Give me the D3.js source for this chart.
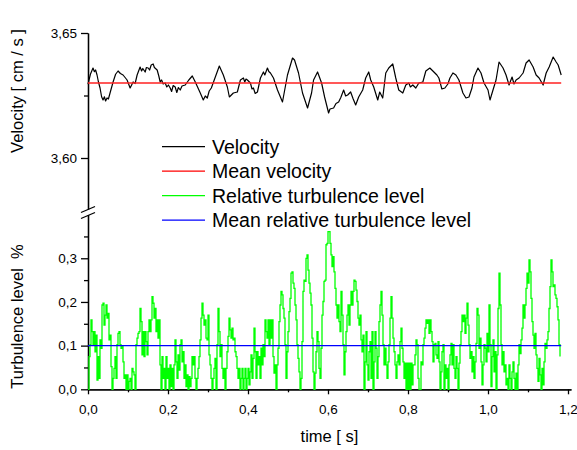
<!DOCTYPE html>
<html><head><meta charset="utf-8">
<script src="https://cdn.jsdelivr.net/npm/d3@7/dist/d3.min.js"></script>
<style>
html,body{margin:0;padding:0;background:#fff;}
svg{display:block;font-family:"Liberation Sans",Arial,sans-serif;}
</style></head>
<body>
<svg id="chart" width="577" height="450"></svg>
<script>
// ---------- data ----------
const velTime = [0.000,0.006,0.0125,0.016,0.019,0.0226,0.026,0.0301,0.034,0.0376,0.041,0.044,0.0476,0.051,0.0551,0.0627,0.069,0.0752,0.081,0.0877,0.0977,0.1053,0.1128,0.1178,0.1228,0.1303,0.134,0.137,0.1429,0.146,0.1504,0.154,0.158,0.1629,0.166,0.1729,0.177,0.1805,0.184,0.188,0.193,0.197,0.201,0.2055,0.209,0.213,0.218,0.222,0.226,0.2306,0.235,0.2431,0.252,0.2607,0.2682,0.2807,0.2882,0.2932,0.2982,0.303,0.3083,0.3183,0.3283,0.3383,0.3484,0.3534,0.3634,0.3734,0.381,0.3885,0.392,0.395,0.3985,0.406,0.41,0.4135,0.418,0.4236,0.4311,0.4386,0.442,0.4486,0.452,0.4561,0.4637,0.4737,0.4862,0.4987,0.5113,0.5163,0.5263,0.5363,0.5489,0.5589,0.5639,0.5739,0.584,0.5915,0.6015,0.605,0.614,0.62,0.6266,0.632,0.6391,0.6441,0.6491,0.6566,0.6625,0.6692,0.6767,0.6867,0.6942,0.7018,0.7068,0.7143,0.7243,0.7293,0.7368,0.7444,0.7519,0.7619,0.7694,0.7769,0.787,0.7945,0.802,0.806,0.812,0.8195,0.8271,0.8371,0.8446,0.8546,0.8622,0.8722,0.8772,0.8847,0.8922,0.8997,0.9048,0.9123,0.9198,0.9273,0.9373,0.9449,0.9524,0.9599,0.9649,0.9749,0.9825,0.99,1.0,1.005,1.0125,1.0201,1.0276,1.0376,1.0451,1.0526,1.0602,1.065,1.0702,1.0777,1.0877,1.0952,1.1028,1.1128,1.1203,1.1278,1.1378,1.1454,1.1529,1.1629,1.1704,1.1754,1.183];
const velValue = [3.6295,3.6335,3.636,3.6345,3.6352,3.6332,3.6305,3.628,3.6245,3.6232,3.6245,3.6228,3.624,3.6236,3.626,3.6304,3.6335,3.6348,3.6338,3.6332,3.6312,3.628,3.6304,3.6298,3.6332,3.6364,3.6348,3.6358,3.6344,3.6362,3.636,3.6352,3.6372,3.6376,3.6362,3.6352,3.6328,3.6304,3.6312,3.6296,3.63,3.6284,3.6292,3.628,3.6266,3.629,3.6284,3.6262,3.6282,3.6272,3.6288,3.6292,3.6312,3.6328,3.6304,3.626,3.6232,3.6248,3.624,3.6268,3.628,3.6324,3.6368,3.6332,3.6284,3.6244,3.626,3.6264,3.6312,3.632,3.6304,3.6316,3.6312,3.63,3.6276,3.628,3.6258,3.6264,3.632,3.6344,3.6332,3.636,3.6346,3.634,3.632,3.6272,3.6224,3.6332,3.64,3.6392,3.634,3.626,3.62,3.626,3.6312,3.6344,3.63,3.6244,3.618,3.6196,3.62,3.6218,3.6224,3.6242,3.6272,3.6248,3.6252,3.6264,3.6238,3.6212,3.6244,3.6272,3.632,3.6344,3.6312,3.6284,3.6232,3.6264,3.624,3.634,3.636,3.6376,3.632,3.6272,3.626,3.6292,3.63,3.6284,3.6292,3.628,3.63,3.6304,3.6348,3.636,3.6348,3.6332,3.632,3.6276,3.628,3.6296,3.632,3.634,3.6332,3.6312,3.626,3.624,3.6244,3.628,3.6324,3.636,3.634,3.63,3.6272,3.6232,3.6272,3.6312,3.6384,3.636,3.6332,3.6292,3.6324,3.6296,3.6312,3.632,3.634,3.638,3.6392,3.6364,3.6332,3.632,3.6292,3.634,3.6364,3.6404,3.6384,3.6372,3.6332];
const meanVelocity = 3.630;
const meanTimeEnd = 1.183;

const turbStep = 0.0025; // sampling interval [s]
const turbValues = [0,
.075,.102,.159,.132,.102,.132,.086,.124,.021,.075,.025,.113,.094,.193,.197,.147,.170,.193,.163,.174,
.113,.124,.052,0,.025,.048,.075,.025,.102,.128,.132,.102,.094,.098,.063,.025,.033,0,.033,0,.018,.025,0,.048,.040,.033,0,.102,.117,.128,.132,.185,.155,.079,.132,.075,.132,.109,.079,.132,.159,.132,.159,.212,.197,.163,.185,.132,.159,.117,.159,.056,0,.075,.025,.048,0,.075,.025,.048,0,.056,.006,.048,0,.056,.113,.063,.025,.079,.044,.102,.113,.063,.086,.025,.056,.006,.033,0,.029,.006,.025,.075,.056,.075,.025,0,.025,.048,.075,.113,.163,.197,.170,.147,.159,.117,.113,
.170,.079,.056,.025,0,.025,.048,.071,0,.102,.185,.132,.075,.102,.048,.025,.048,0,.048,.086,.121,.163,.136,.117,.140,.113,.117,.086,.075,.048,.025,.048,0,.025,.048,0,.025,.048,0,.025,.048,.010,.040,.079,.025,.071,.140,.086,.025,.086,.056,.075,.025,.094,.056,.102,.075,.159,.132,.117,.159,.102,.159,.117,.159,.075,.037,.056,0,.056,.094,.155,.193,.224,.216,.185,.163,.102,.025,.086,.132,.178,.208,.266,.269,.243,.231,.193,.159,.102,.071,.040,0,.025,.109,.224,.250,.247,.300,.308,.273,.243,.220,.193,.117,.040,0,.037,.086,.132,.109,.048,.025,.094,.170,.201,.247,.250,
.331,.334,.361,.361,.334,.308,.281,.304,.269,.231,.193,.163,.193,.155,.132,.224,.170,.102,.033,.086,.132,.170,.193,.147,.193,.224,.193,.224,.250,.247,.227,.201,.163,.147,.170,.113,.086,.124,0,.063,.132,.056,.021,.086,.109,.025,.132,0,.063,.132,.094,.025,.075,.155,.193,.224,.170,.102,.056,.094,.056,.025,.063,.102,.163,.212,.163,.117,.086,.056,.025,.063,.079,.056,.109,.140,.094,.063,.025,.060,0,.060,0,.060,0,.060,.010,.056,.056,.079,.113,.102,.025,0,0,.063,.056,.102,.117,.140,.159,.151,.159,.128,.159,.132,.109,.063,.102,.105,.079,.071,.109,.063,0,.040,.086,.102,
0,.056,.025,.048,0,.056,.079,.105,.056,.102,.048,.025,.075,.048,0,.060,.102,.132,.170,.155,.170,.128,.163,.197,.147,.102,.071,.086,.040,.075,.025,.063,.105,.185,.170,.094,.117,.063,.010,.056,.102,.094,.063,.128,.086,.193,.102,.006,.075,.113,.040,.086,0,.079,.185,.266,.193,.102,.056,.086,.040,.056,.010,.025,0,.056,.025,0,.040,.063,.025,0,.037,0,.056,.102,.082,.113,.140,.193,.163,.193,.231,.266,.243,.296,.269,.208,.155,.124,.094,.128,.079,.048,.018,.071,.033,0,.048,.010,.063,.105,.094,.113,.132,.185,.235,.296,.269,.235,.239,.216,.208,.189,.159,.102,.075];
const meanTurbulence = 0.10;

const timeTicks = [0,0.2,0.4,0.6,0.8,1.0,1.2];
const timeMinorTicks = [0.1,0.3,0.5,0.7,0.9,1.1];
const velTicks = [3.60,3.65];
const velMinorTicks = [3.625];
const turbTicks = [0,0.1,0.2,0.3];
const turbMinorTicks = [0.05,0.15,0.25,0.35];

const legendLabels = ["Velocity","Mean velocity","Relative turbulence level","Mean relative turbulence level"];
const legendColors = ["#000000","#ff0000","#00ff00","#0000ff"];

// ---------- drawing ----------
const svg = d3.select("#chart");
const locale = d3.formatLocale({decimal:",",thousands:".",grouping:[3],currency:["","€"]});
const f1 = locale.format(".1f"), f2 = locale.format(".2f");

const x = d3.scaleLinear().domain([0,1.2075]).range([88,571]);
const yTop = d3.scaleLinear().domain([3.5796,3.65]).range([209,33]);
const yBot = d3.scaleLinear().domain([0,0.4]).range([389.3,214.6]);

function styleAxis(g){
  g.selectAll("path,line").attr("stroke","#000").attr("stroke-width",1.3);
  g.selectAll("text").attr("font-size",13.5).attr("fill","#000").attr("font-family","'Liberation Sans',Arial,sans-serif");
}

// top y axis
svg.append("g").attr("transform","translate(88,0)")
  .call(d3.axisLeft(yTop).tickValues(velTicks).tickFormat(f2).tickSize(7).tickSizeOuter(0).tickPadding(4))
  .call(styleAxis);
svg.append("g").attr("transform","translate(88,0)")
  .call(d3.axisLeft(yTop).tickValues(velMinorTicks).tickFormat("").tickSize(4).tickSizeOuter(0))
  .call(styleAxis);
// bottom y axis
svg.append("g").attr("transform","translate(88,0)")
  .call(d3.axisLeft(yBot).tickValues(turbTicks).tickFormat(f1).tickSize(7).tickSizeOuter(0).tickPadding(4))
  .call(styleAxis);
svg.append("g").attr("transform","translate(88,0)")
  .call(d3.axisLeft(yBot).tickValues(turbMinorTicks).tickFormat("").tickSize(4).tickSizeOuter(0))
  .call(styleAxis);
// x axis
svg.append("g").attr("transform","translate(0,389.3)")
  .call(d3.axisBottom(x).tickValues(timeTicks).tickFormat(f1).tickSize(5).tickSizeOuter(0).tickPadding(10))
  .call(styleAxis);
svg.append("g").attr("transform","translate(0,389.3)")
  .call(d3.axisBottom(x).tickValues(timeMinorTicks).tickFormat("").tickSize(3).tickSizeOuter(0))
  .call(styleAxis);

// axis break marks
[0,6].forEach(dy=>{
  svg.append("line").attr("x1",81).attr("y1",212.5+dy).attr("x2",95).attr("y2",206.5+dy)
    .attr("stroke","#000").attr("stroke-width",1.3);
});

// turbulence trace
const turbData = turbValues.map((v,i)=>[i*turbStep, v]);
svg.append("path").datum(turbData)
  .attr("fill","none").attr("stroke","#00ff00").attr("stroke-width",1.3)
  .attr("d", d3.line().x(d=>x(d[0])).y(d=>yBot(d[1])).curve(d3.curveStepAfter));
svg.append("line")
  .attr("x1",x(0)).attr("x2",x(meanTimeEnd)).attr("y1",yBot(meanTurbulence)).attr("y2",yBot(meanTurbulence))
  .attr("stroke","#0000ff").attr("stroke-width",1.4);

// velocity trace
const velData = velTime.map((t,i)=>[t, velValue[i]]);
svg.append("path").datum(velData)
  .attr("fill","none").attr("stroke","#000").attr("stroke-width",1.2).attr("stroke-linejoin","round")
  .attr("d", d3.line().x(d=>x(d[0])).y(d=>yTop(d[1])));
svg.append("line")
  .attr("x1",x(0)).attr("x2",x(meanTimeEnd)).attr("y1",yTop(meanVelocity)).attr("y2",yTop(meanVelocity))
  .attr("stroke","#ff2020").attr("stroke-width",1.3);

// axis titles
svg.append("text").attr("x",329.5).attr("y",442).attr("text-anchor","middle")
  .attr("font-size",16.5).text("time [ s]");
svg.append("text").attr("transform","translate(23,91) rotate(-90)").attr("text-anchor","middle")
  .attr("font-size",16.5).text("Velocity [ cm / s ]");
svg.append("text").attr("transform","translate(23,316.5) rotate(-90)").attr("text-anchor","middle")
  .attr("font-size",16.5).attr("xml:space","preserve").style("white-space","pre").text("Turbulence level  %");

// legend
const lg = svg.append("g");
legendLabels.forEach((lab,i)=>{
  const yy = 146.7 + i*24.5;
  lg.append("line").attr("x1",162).attr("x2",205).attr("y1",yy).attr("y2",yy)
    .attr("stroke",legendColors[i]).attr("stroke-width",1.2);
  lg.append("text").attr("x",212).attr("y",yy+7).attr("font-size",19.5).attr("fill","#000").text(lab);
});
</script>
</body></html>
